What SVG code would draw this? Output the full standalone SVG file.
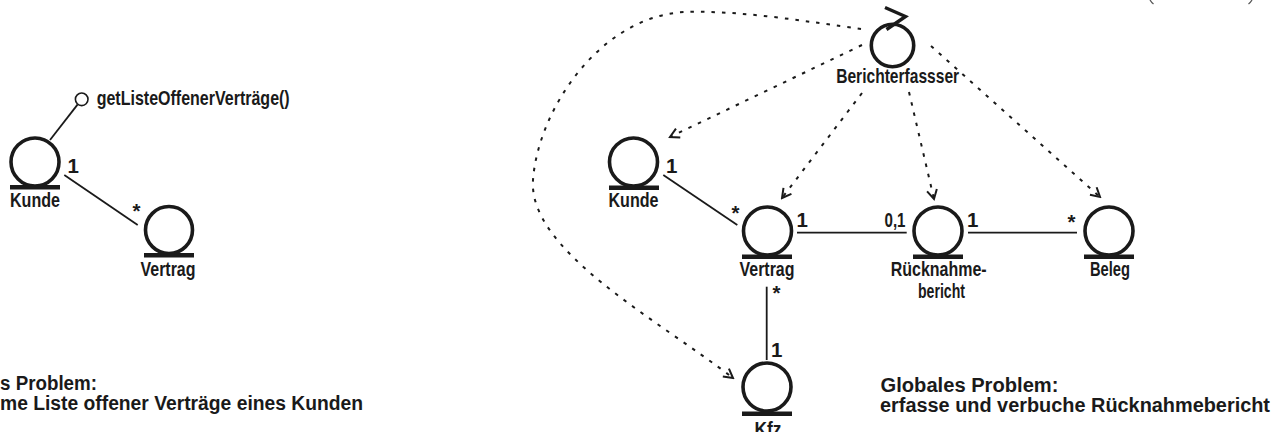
<svg xmlns="http://www.w3.org/2000/svg" width="1273" height="432" viewBox="0 0 1273 432">
<style>
  .t{font-family:"Liberation Sans",Arial,sans-serif;font-weight:bold;font-size:20.5px;fill:#1a1a1a}
  .b{font-size:20px}
  .m{text-anchor:middle}
  .obj{fill:none;stroke:#1a1a1a;stroke-width:3.6}
  .bar{fill:#1a1a1a}
  .assoc{fill:none;stroke:#1a1a1a;stroke-width:1.8}
  .dep{fill:none;stroke:#1a1a1a;stroke-width:2;stroke-dasharray:3.5 7;marker-end:url(#arr)}
</style>
<defs>
  <marker id="arr" markerUnits="userSpaceOnUse" markerWidth="14" markerHeight="14" viewBox="0 0 14 14" refX="12" refY="7" orient="auto">
    <path d="M3,2 L12,7 L3,12" fill="none" stroke="#1a1a1a" stroke-width="2"/>
  </marker>
</defs>
<rect width="1273" height="432" fill="#fff"/>

<!-- top-right fragments -->
<path d="M1150,0 Q1151.5,2.5 1153.5,4 M1252,0 Q1250.5,2.5 1248.5,4" fill="none" stroke="#555" stroke-width="1.3"/>

<g id="connectors">
  <!-- left diagram -->
  <line class="assoc" x1="50" y1="140" x2="77.7" y2="104.4"/>
  <line class="assoc" x1="64.3" y1="175" x2="137.7" y2="225"/>
  <!-- right diagram associations -->
  <line class="assoc" x1="663.3" y1="175" x2="737.3" y2="225"/>
  <line class="assoc" x1="797" y1="232.7" x2="906.7" y2="232.7"/>
  <line class="assoc" x1="968" y1="232.7" x2="1077" y2="232.7"/>
  <line class="assoc" x1="766.7" y1="286.7" x2="766.7" y2="360"/>
  <!-- dependencies -->
  <path class="dep" d="M862,45 L670,137"/>
  <path class="dep" d="M862,93 L782,198"/>
  <path class="dep" d="M909,92 L934,199"/>
  <path class="dep" d="M931,46 L1100,197"/>
  <path class="dep" d="M861,29 C810,22 740,10 685,12 C600,16 538,110 533,180 C528,250 655,318 733,378"/>
  <!-- multiplicities -->
  <text class="t" x="67.5" y="172.5">1</text>
  <text class="t" x="132.5" y="218">*</text>
  <text class="t" x="666" y="173.3">1</text>
  <text class="t" x="731.5" y="220">*</text>
  <text class="t" x="796.5" y="226.7">1</text>
  <text class="t" x="884.5" y="226.7" textLength="21" lengthAdjust="spacingAndGlyphs">0,1</text>
  <text class="t" x="967" y="226.7">1</text>
  <text class="t" x="1067.5" y="229">*</text>
  <text class="t" x="772.5" y="300">*</text>
  <text class="t" x="771" y="356.7">1</text>
</g>

<!-- left diagram -->
<g id="lollipop">
  <circle cx="81.7" cy="99.3" r="6.3" fill="#fff" stroke="#1a1a1a" stroke-width="1.6"/>
  <text class="t" x="96.7" y="104.5" textLength="193" lengthAdjust="spacingAndGlyphs">getListeOffenerVerträge()</text>
</g>
<g id="kunde-left">
  <circle class="obj" cx="35" cy="162" r="24"/>
  <rect class="bar" x="10" y="185" width="50" height="4.5"/>
  <text class="t m" x="35" y="207" textLength="50" lengthAdjust="spacingAndGlyphs">Kunde</text>
</g>
<g id="vertrag-left">
  <circle class="obj" cx="169" cy="230" r="23.5"/>
  <rect class="bar" x="144" y="253" width="50" height="4.5"/>
  <text class="t m" x="168" y="276" textLength="55" lengthAdjust="spacingAndGlyphs">Vertrag</text>
</g>
<g id="problem-left">
  <text class="t b" x="0" y="390" textLength="97" lengthAdjust="spacingAndGlyphs">s Problem:</text>
  <text class="t b" x="0" y="410" textLength="363" lengthAdjust="spacingAndGlyphs">me Liste offener Verträge eines Kunden</text>
</g>

<!-- right diagram -->
<g id="berichterfassser">
  <circle class="obj" cx="892.5" cy="45.5" r="21.2"/>
  <path d="M885,7.5 L905.5,16.5 L886.5,29.5" fill="none" stroke="#1a1a1a" stroke-width="3.4"/>
  <text class="t m" x="897.7" y="82.7" textLength="123" lengthAdjust="spacingAndGlyphs">Berichterfassser</text>
</g>
<g id="kunde-right">
  <circle class="obj" cx="633.5" cy="162" r="24"/>
  <rect class="bar" x="609" y="185.5" width="50" height="4.5"/>
  <text class="t m" x="633.5" y="207" textLength="50" lengthAdjust="spacingAndGlyphs">Kunde</text>
</g>
<g id="vertrag-right">
  <circle class="obj" cx="767.5" cy="231" r="24"/>
  <rect class="bar" x="742" y="254.5" width="50" height="4.5"/>
  <text class="t m" x="767" y="276" textLength="55" lengthAdjust="spacingAndGlyphs">Vertrag</text>
</g>
<g id="ruecknahmebericht">
  <circle class="obj" cx="938" cy="231" r="24"/>
  <rect class="bar" x="913" y="254.5" width="50" height="4.5"/>
  <text class="t m" x="938.7" y="276" textLength="96" lengthAdjust="spacingAndGlyphs">Rücknahme-</text>
  <text class="t m" x="941.5" y="298" textLength="47" lengthAdjust="spacingAndGlyphs">bericht</text>
</g>
<g id="beleg">
  <circle class="obj" cx="1109" cy="231" r="24"/>
  <rect class="bar" x="1084" y="254.5" width="50" height="4.5"/>
  <text class="t m" x="1110" y="276" textLength="40" lengthAdjust="spacingAndGlyphs">Beleg</text>
</g>
<g id="kfz">
  <circle class="obj" cx="767" cy="387" r="24"/>
  <rect class="bar" x="742" y="411.5" width="50" height="4.5"/>
  <text class="t m" x="768" y="436" textLength="27" lengthAdjust="spacingAndGlyphs">Kfz</text>
</g>
<g id="problem-right">
  <text class="t b" x="880.5" y="391.7" textLength="178" lengthAdjust="spacingAndGlyphs">Globales Problem:</text>
  <text class="t b" x="880" y="411.7" textLength="390" lengthAdjust="spacingAndGlyphs">erfasse und verbuche Rücknahmebericht</text>
</g>
</svg>
